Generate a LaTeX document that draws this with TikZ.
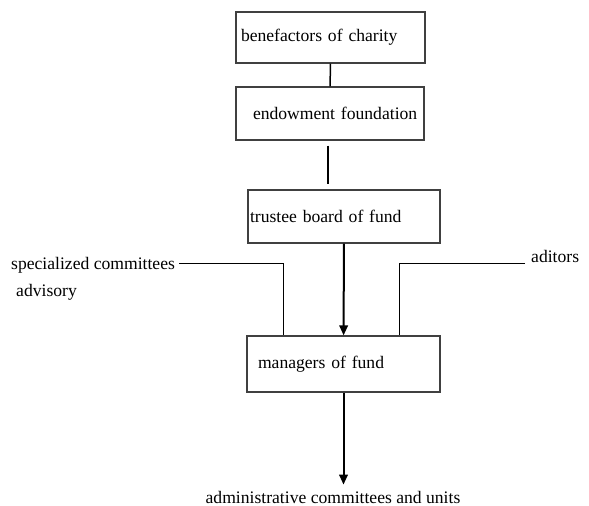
\documentclass[tikz,border=0pt]{standalone}
\usepackage{fontspec}
\setmainfont{Liberation Serif}
\usetikzlibrary{arrows.meta}
\tikzset{
  fundbox/.style={draw=black!75, line width=1.3pt, inner xsep=0pt, inner ysep=0pt, align=left},
  flow/.style={line width=2pt, -{Triangle[length=10pt,width=8.5pt]}},
  link/.style={line width=0.9pt}
}
\begin{document}
\begin{tikzpicture}[x=1pt, y=-1pt, font=\fontsize{17.6}{21}\selectfont]
   \useasboundingbox (0,0) rectangle (589,506);

   \node[fundbox, text width=189pt, minimum height=51pt] (benef) at (330.5,37.5) {\hspace*{5pt}benefactors of charity};
   \node[fundbox, text width=188pt, minimum height=53pt] (endow) at (330,113.5) {\hspace*{17pt}endowment foundation};
   \node[fundbox, text width=192pt, minimum height=53pt] (trustee) at (344,216.5) {\hspace*{2pt}trustee board of fund};
   \node[fundbox, text width=193pt, minimum height=56pt] (managers) at (343.5,364) {\hspace*{11pt}managers of fund};

   \node[anchor=west, inner sep=0pt] (spec) at (11,265) {specialized committees};
   \node[anchor=west, inner sep=0pt] (advis) at (16,292) {advisory};
   \node[anchor=west, inner sep=0pt] (aditors) at (531,256) {aditors};
   \node[inner sep=0pt] (admin) at (333,497) {administrative committees and units};

   \draw[link, line width=1.5pt] (benef) -- (endow);
   \draw[link, line width=1.5pt] ([shift={(-2,5)}]endow.south) -- ([shift={(-16,-5)}]trustee.north);
   \draw[flow] (trustee) -- (managers);
   \draw[flow] (managers.south) -- ([yshift=6pt]managers.south |- admin.north);

   \draw[link] ([shift={(4,-2)}]spec.east) -| ([xshift=37]managers.north west);
   \draw[link] ([shift={(-6,7)}]aditors.west) -| ([xshift=-41]managers.north east);
\end{tikzpicture}
\end{document}
